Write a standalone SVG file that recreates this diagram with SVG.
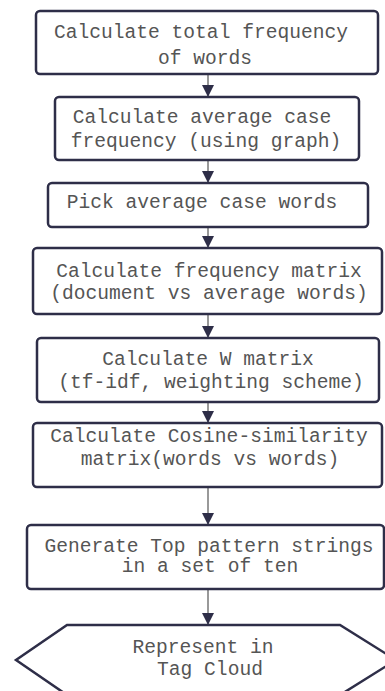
<svg xmlns="http://www.w3.org/2000/svg" width="385" height="691" viewBox="0 0 385 691">
<defs>
<marker id="ah" markerWidth="12" markerHeight="12" viewBox="0 0 12 12" refX="12" refY="6" orient="auto" markerUnits="userSpaceOnUse">
<path d="M0,0 L12,6 L0,12 Z" fill="#2e2e48"/>
</marker>
</defs>
<style>
.box{fill:#fff;stroke:#2e2e48;stroke-width:2.5}
.t{font-family:"Liberation Mono","Courier New",monospace;font-size:19.6px;fill:#555;text-anchor:middle}
.c{stroke:#777;stroke-width:1.5;fill:none;marker-end:url(#ah)}
</style>
<rect width="385" height="691" fill="#fff"/>
<g id="connectors">
<line class="c" x1="208" y1="74" x2="208" y2="97"/>
<line class="c" x1="208" y1="160" x2="208" y2="183"/>
<line class="c" x1="208" y1="227" x2="208" y2="248"/>
<line class="c" x1="208" y1="314" x2="208" y2="338"/>
<line class="c" x1="208" y1="402" x2="208" y2="423"/>
<line class="c" x1="208" y1="487" x2="208" y2="525"/>
<line class="c" x1="208" y1="589" x2="208" y2="625"/>
</g>
<g id="n1">
<rect class="box" x="36" y="11" width="342" height="63" rx="4"/>
<text class="t" x="201" y="38">Calculate total frequency</text>
<text class="t" x="205" y="64">of words</text>
</g>
<g id="n2">
<rect class="box" x="55" y="97" width="304" height="63" rx="4"/>
<text class="t" x="202" y="123">Calculate average case</text>
<text class="t" x="206" y="147">frequency (using graph)</text>
</g>
<g id="n3">
<rect class="box" x="48" y="183" width="320" height="44" rx="4"/>
<text class="t" x="202" y="208">Pick average case words</text>
</g>
<g id="n4">
<rect class="box" x="33" y="248" width="349" height="66" rx="4"/>
<text class="t" x="209" y="277">Calculate frequency matrix</text>
<text class="t" x="209" y="299">(document vs average words)</text>
</g>
<g id="n5">
<rect class="box" x="37" y="338" width="342" height="64" rx="4"/>
<text class="t" x="208" y="365">Calculate W matrix</text>
<text class="t" x="211" y="388">(tf-idf, weighting scheme)</text>
</g>
<g id="n6">
<rect class="box" x="33" y="423" width="349" height="64" rx="4"/>
<text class="t" x="209" y="442">Calculate Cosine-similarity</text>
<text class="t" x="210" y="465">matrix(words vs words)</text>
</g>
<g id="n7">
<rect class="box" x="27" y="525" width="357" height="64" rx="4"/>
<text class="t" x="209" y="552">Generate Top pattern strings</text>
<text class="t" x="210" y="572">in a set of ten</text>
</g>
<g id="n8">
<polygon class="box" points="67,625 340,625 396,660 340,695 67,695 16,660"/>
<text class="t" x="203" y="653">Represent in</text>
<text class="t" x="210" y="675">Tag Cloud</text>
</g>
</svg>
